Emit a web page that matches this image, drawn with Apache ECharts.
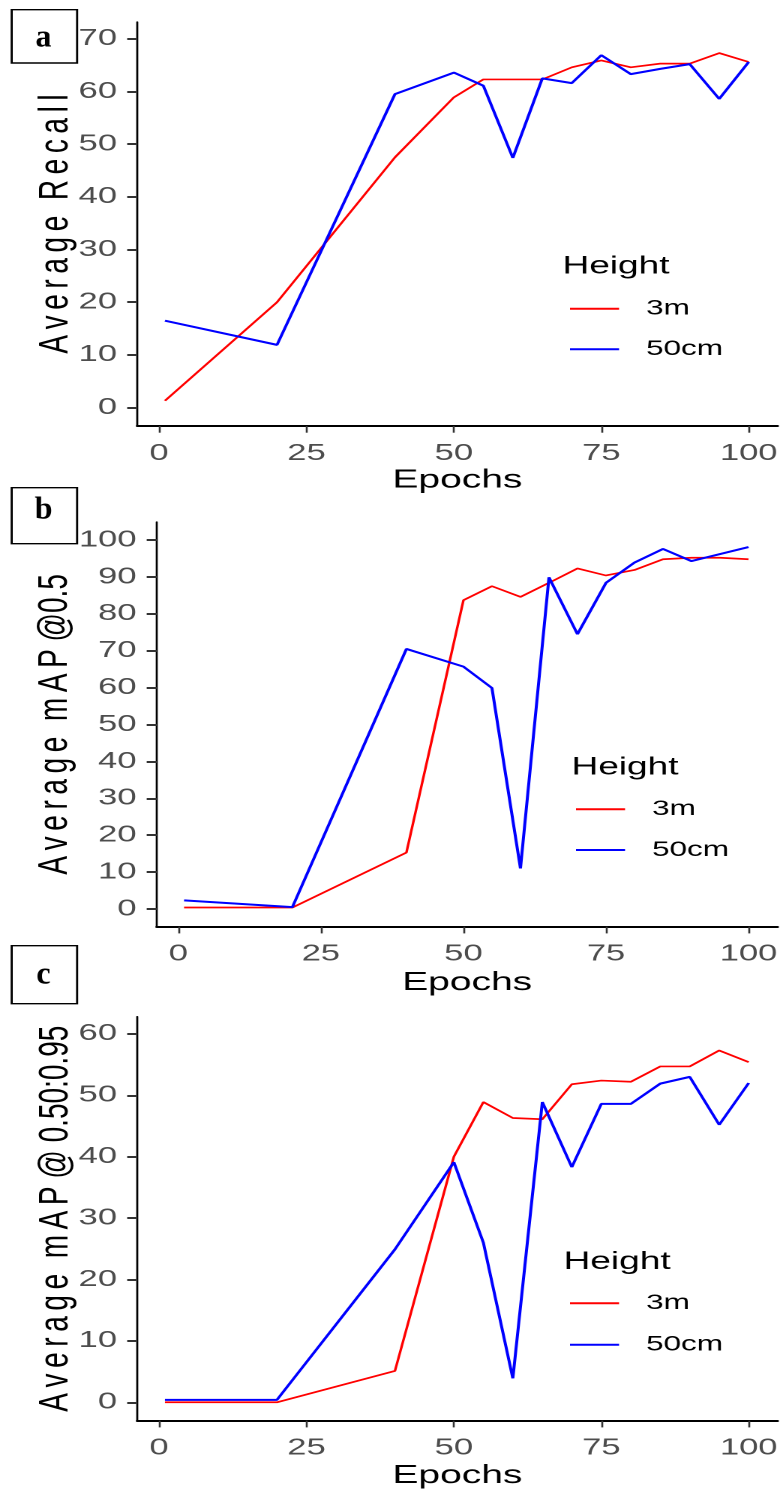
<!DOCTYPE html>
<html>
<head>
<meta charset="utf-8">
<script src="https://cdn.jsdelivr.net/npm/echarts@6/dist/echarts.min.js"></script>
<style>
  html, body { margin: 0; padding: 0; background: #fff; overflow: hidden; }
  /* the reference figure is stretched sideways, so the chart is drawn narrow and widened */
  #main { width: 521.333px; height: 1492px; transform: scaleX(1.5); transform-origin: 0 0; }
</style>
</head>
<body>
<div id="main"></div>
<script>
  // data
  const epochs = [1, 20, 40, 50, 55, 60, 65, 70, 75, 80, 85, 90, 95, 100];

  const recall3m   = [1.3, 20.0, 47.5, 58.9, 62.3, 62.3, 62.3, 64.6, 65.9, 64.6, 65.3, 65.3, 67.3, 65.6];
  const recall50cm = [16.5, 11.9, 59.5, 63.6, 61.1, 47.4, 62.5, 61.6, 66.9, 63.3, 64.3, 65.2, 58.6, 65.6];

  const map50_3m   = [0.4, 0.4, 15.3, 83.7, 87.5, 84.6, 88.4, 92.3, 90.4, 91.9, 94.8, 95.2, 95.2, 94.8];
  const map50_50cm = [2.35, 0.5, 70.5, 65.7, 59.9, 11.0, 89.9, 74.5, 88.4, 93.9, 97.6, 94.3, 96.2, 98.1];

  const map5095_3m   = [0.0, 0.0, 5.1, 40.0, 48.9, 46.3, 46.1, 51.8, 52.4, 52.2, 54.7, 54.7, 57.3, 55.4];
  const map5095_50cm = [0.4, 0.4, 24.9, 39.1, 26.0, 3.9, 48.9, 38.3, 48.6, 48.6, 51.9, 53.0, 45.2, 52.0];

  const xTicks = [0, 25, 50, 75, 100];
  const yTicksA = [0, 10, 20, 30, 40, 50, 60, 70];
  const yTicksB = [0, 10, 20, 30, 40, 50, 60, 70, 80, 90, 100];
  const yTicksC = [0, 10, 20, 30, 40, 50, 60];

  const heights = ['3m', '50cm'];
  const colors = ['#ff0000', '#0000ff'];

  const sp = (s) => s.split('').join('\u2009');
  const yNames = [
    sp('Average') + '  ' + sp('Recall'),
    sp('Average') + '  ' + sp('mAP') + ' @0.5',
    sp('Average') + '  ' + sp('mAP') + ' @ 0.50:0.95'
  ];

  const pairs = (ys) => ys.map((v, i) => [epochs[i], v]);

  const font = 'Liberation Sans, Arial, sans-serif';

  let myChart = echarts.init(document.getElementById('main'), null, { renderer: 'canvas', devicePixelRatio: 2 });

  const grids = [
    { left: 91.5, right: 2.6, top: 22, height: 404, outerBoundsMode: 'none' },
    { left: 104.5, right: 2.6, top: 522, height: 404.7, outerBoundsMode: 'none' },
    { left: 91.5, right: 2.6, top: 1016.7, height: 404, outerBoundsMode: 'none' }
  ];
  const xRange = [[-3.7, 104.9], [-3.79, 105.1], [-3.7, 104.9]];
  const yRange = [[-3.5, 73.2], [-4.8, 104.9], [-3, 62.8]];
  const yTicks = [yTicksA, yTicksB, yTicksC];
  const xNameGap = [41.5, 43, 42];
  const yNameGap = [40, 53.5, 40];

  let xAxis = [], yAxis = [];
  for (let i = 0; i < 3; i++) {
    xAxis.push({
      type: 'value', gridIndex: i, min: xRange[i][0], max: xRange[i][1],
      name: 'Epochs', nameLocation: 'middle', nameGap: xNameGap[i], nameMoveOverlap: false,
      nameTextStyle: { fontFamily: font, fontSize: 26, color: '#000' },
      axisLine: { onZero: false, lineStyle: { color: '#000', width: 2 } },
      axisTick: { customValues: xTicks, length: 6.7, lineStyle: { color: '#333', width: 1.3 } },
      axisLabel: { customValues: xTicks, margin: 16, fontFamily: font, fontSize: 23, color: '#4d4d4d' },
      splitLine: { show: false }
    });
    yAxis.push({
      type: 'value', gridIndex: i, min: yRange[i][0], max: yRange[i][1],
      name: yNames[i], nameLocation: 'middle', nameRotate: 90, nameGap: yNameGap[i], nameMoveOverlap: false,
      nameTextStyle: { fontFamily: font, fontSize: 28, color: '#000' },
      axisLine: { onZero: false, lineStyle: { color: '#000', width: 1.35 } },
      axisTick: { customValues: yTicks[i], length: 6.7, lineStyle: { color: '#333', width: 2 } },
      axisLabel: { customValues: yTicks[i], margin: 13.5, fontFamily: font, fontSize: 23, color: '#4d4d4d' },
      splitLine: { show: false }
    });
  }

  const panels = [
    [recall3m, recall50cm],
    [map50_3m, map50_50cm],
    [map5095_3m, map5095_50cm]
  ];
  let series = [];
  panels.forEach((p, i) => {
    p.forEach((ys, j) => {
      series.push({
        name: heights[j], type: 'line', xAxisIndex: i, yAxisIndex: i,
        symbol: 'none', color: colors[j],
        lineStyle: { color: colors[j], width: j === 0 ? 1.7 : 2 },
        data: pairs(ys)
      });
    });
  });

  const legendPos = [[380, 298.2], [384, 798.8], [380, 1292.8]];
  const legendGap = [19.6, 19.7, 20.4];
  const legend = legendPos.map((p, i) => ({
    data: heights, orient: 'vertical', left: p[0], top: p[1], padding: 0,
    icon: 'rect', itemWidth: 32.7, itemHeight: 2, itemGap: legendGap[i],
    selectedMode: false,
    textStyle: { fontFamily: font, fontSize: 21, lineHeight: 21, color: '#000', padding: [0, 0, 0, 13] }
  }));

  const titlePos = [[375, 254.5], [381, 755.5], [375.7, 1250]];
  const title = titlePos.map((p) => ({
    text: 'Height', left: p[0], top: p[1], padding: 0,
    textStyle: { fontFamily: font, fontSize: 24.7, fontWeight: 'normal', color: '#000', lineHeight: 24.7 }
  }));

  // panel tags
  const tags = [['a', 9, 53.3, 38], ['b', 487, 56, 510], ['c', 945, 58, 975]];
  let graphic = [];
  tags.forEach((t) => {
    graphic.push({
      type: 'rect', left: 7.1, top: t[1], shape: { width: 43.6, height: t[2] },
      style: { fill: '#fff', stroke: '#000', lineWidth: 1.4 }
    });
    graphic.push({
      type: 'text', x: 29, y: t[3], scaleX: 1 / 1.5,
      style: { text: t[0], font: 'bold 32px "Liberation Serif", "Times New Roman", serif', fill: '#000', align: 'center', verticalAlign: 'middle' }
    });
  });

  let option = {
    animation: false,
    backgroundColor: '#fff',
    title: title,
    legend: legend,
    grid: grids,
    xAxis: xAxis,
    yAxis: yAxis,
    series: series,
    graphic: graphic
  };
  myChart.setOption(option);
</script>
</body>
</html>
